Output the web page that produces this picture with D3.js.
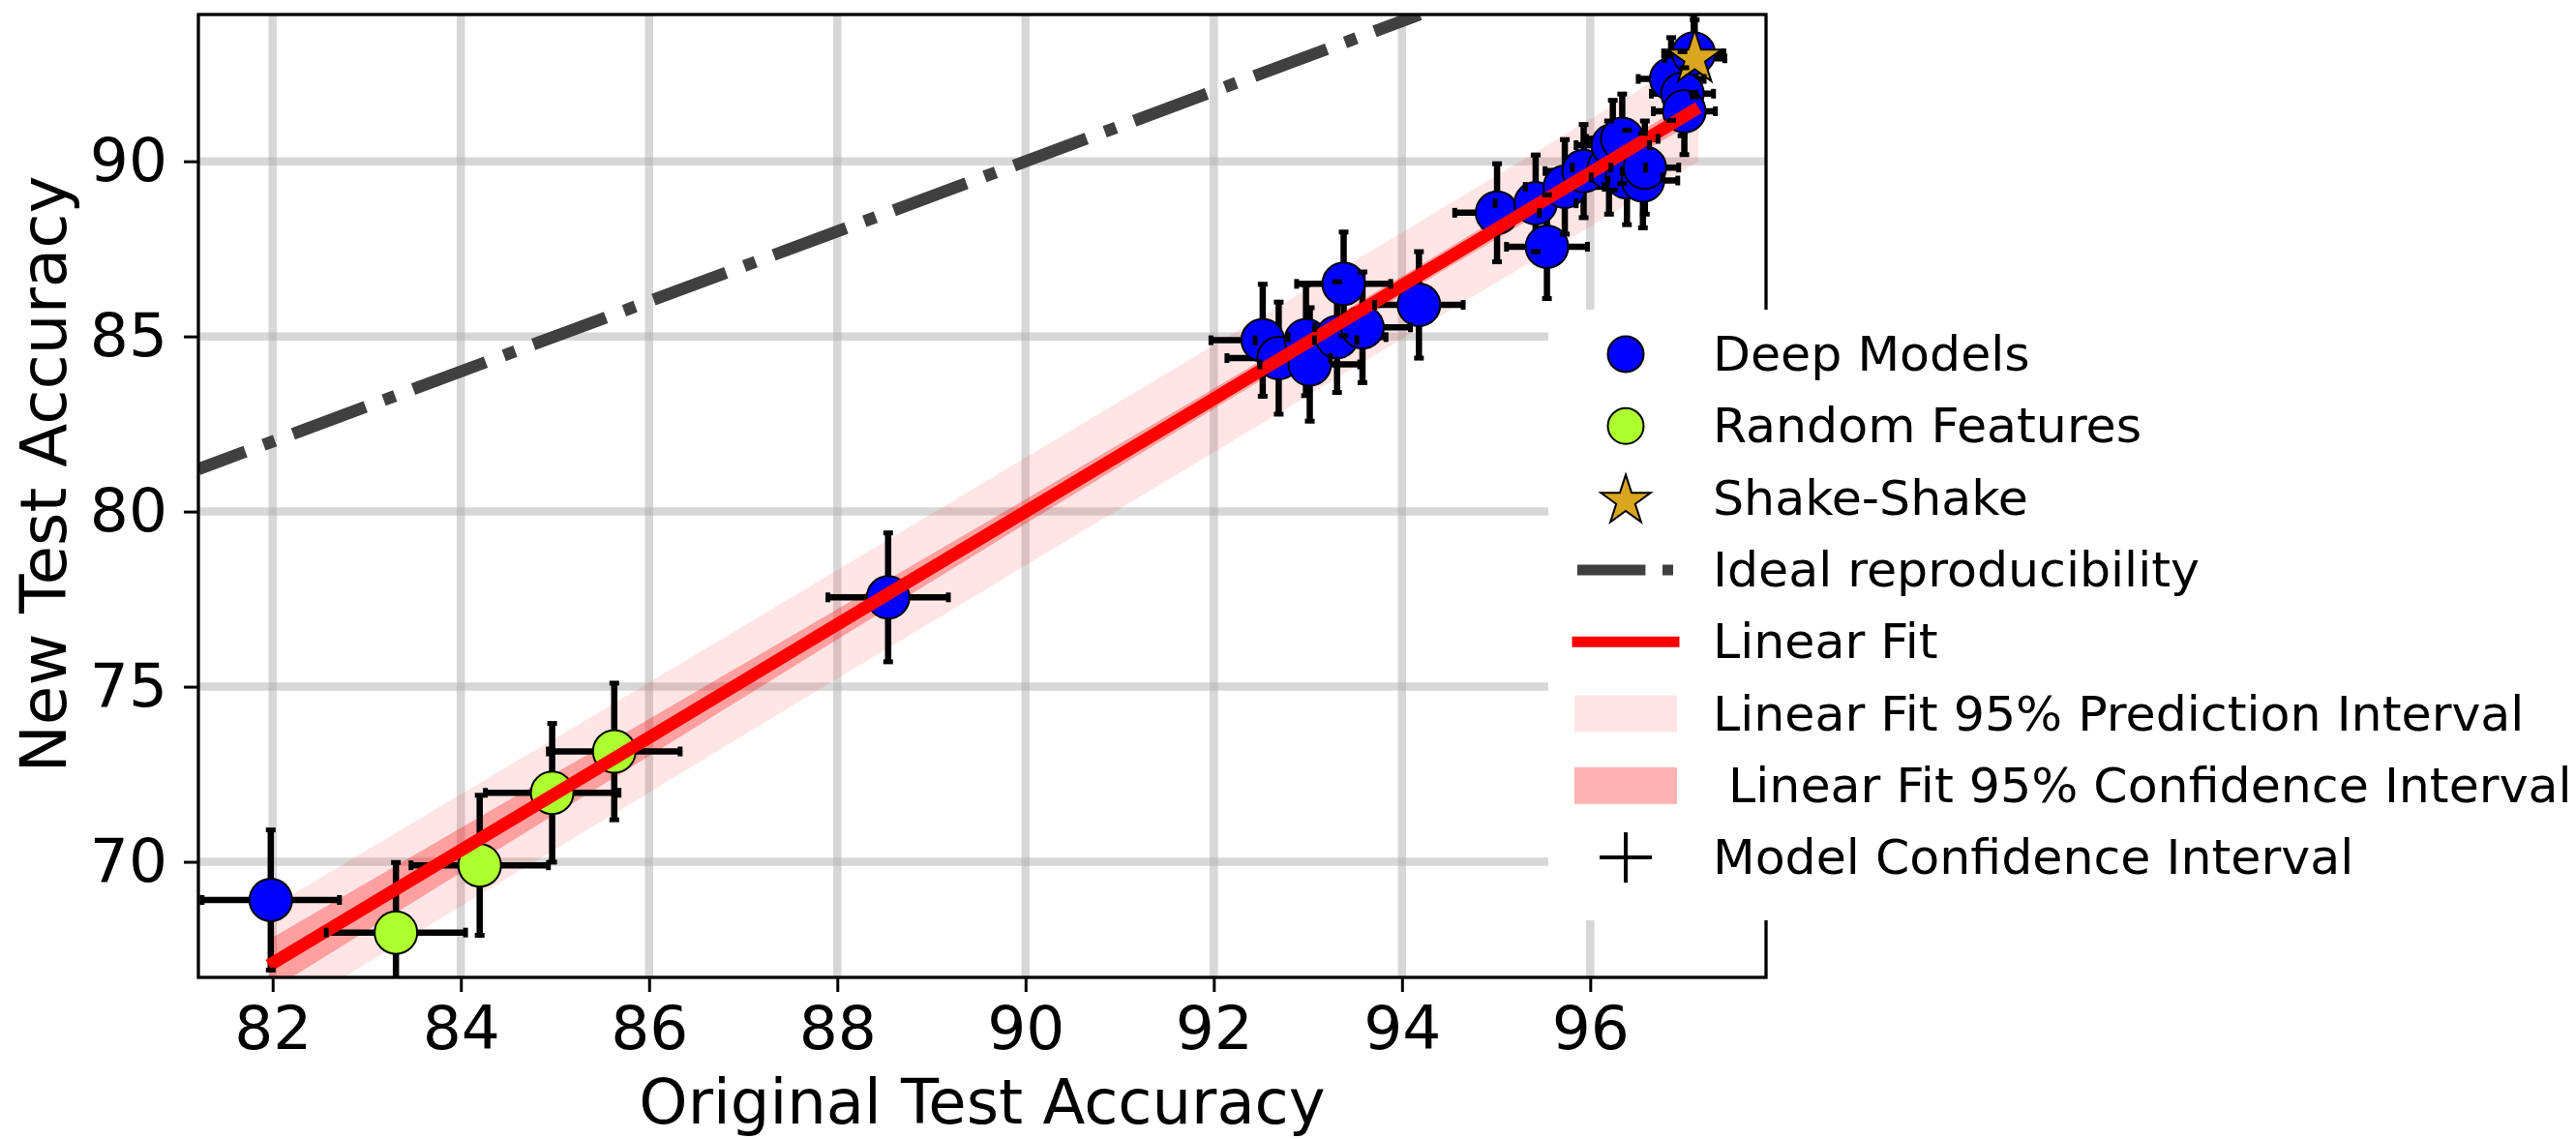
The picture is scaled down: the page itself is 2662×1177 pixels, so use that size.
<!DOCTYPE html>
<html>
<head>
<meta charset="utf-8">
<script src="https://cdn.jsdelivr.net/npm/d3@7"></script>
<style>
  html, body { margin: 0; padding: 0; background: #fff; }
  svg { display: block; font-family: "DejaVu Sans", sans-serif; }
</style>
</head>
<body>
<svg id="chart" width="2662" height="1177"></svg>
<script>
// ---- data ---------------------------------------------------------------
// Deep models: original test accuracy, new test accuracy, 95% interval half-widths
const deepOrig    = [81.98, 88.54, 92.52, 92.69, 92.98, 93.02, 93.31, 93.38, 93.58, 94.18,
                     95.01, 95.42, 95.54, 95.73, 95.93, 96.20, 96.24, 96.34, 96.39, 96.56,
                     96.58, 96.86, 96.98, 97.00, 97.10];
const deepNew     = [68.91, 77.55, 84.89, 84.38, 84.89, 84.20, 84.98, 86.50, 85.26, 85.90,
                     88.53, 88.80, 87.56, 89.27, 89.72, 89.82, 90.46, 90.64, 89.54, 89.45,
                     89.82, 92.35, 91.93, 91.43, 93.08];
const deepOrigErr = [0.73, 0.64, 0.55, 0.55, 0.54, 0.53, 0.52, 0.50, 0.51, 0.47,
                     0.45, 0.43, 0.43, 0.42, 0.41, 0.39, 0.39, 0.38, 0.38, 0.37,
                     0.36, 0.35, 0.33, 0.33, 0.32];
const deepNewErr  = [2.00, 1.84, 1.60, 1.60, 1.58, 1.62, 1.58, 1.48, 1.58, 1.52,
                     1.40, 1.38, 1.48, 1.35, 1.33, 1.33, 1.28, 1.28, 1.35, 1.35,
                     1.33, 1.18, 1.20, 1.24, 1.12];

// Random-features models
const rfOrig    = [83.31, 84.20, 84.97, 85.63];
const rfNew     = [67.98, 69.90, 71.97, 73.15];
const rfOrigErr = [0.74, 0.73, 0.71, 0.70];
const rfNewErr  = [2.00, 2.00, 1.98, 1.95];

// Shake-Shake
const ssOrig    = [97.11];
const ssNew     = [92.94];
const ssOrigErr = [0.32];
const ssNewErr  = [1.10];

// Linear fit with its 95% prediction / confidence half-widths
const fitX      = [81.96, 84, 86, 88, 90, 92, 94, 96, 97.15];
const fitY      = [67.04, 70.33, 73.55, 76.78, 80.00, 83.22, 86.45, 89.67, 91.53];
const predHalf  = [1.63, 1.60, 1.57, 1.55, 1.54, 1.53, 1.52, 1.53, 1.54];
const confHalf  = [0.74, 0.64, 0.53, 0.43, 0.35, 0.29, 0.27, 0.30, 0.33];

const xTicks = [82, 84, 86, 88, 90, 92, 94, 96];
const yTicks = [70, 75, 80, 85, 90];

const legendLabels = ["Deep Models", "Random Features", "Shake-Shake", "Ideal reproducibility",
                      "Linear Fit", "Linear Fit 95% Prediction Interval",
                      " Linear Fit 95% Confidence Interval", "Model Confidence Interval"];

// ---- layout -------------------------------------------------------------
const L = 205, R = 1825, T = 15, B = 1010;
const svg = d3.select("#chart");

const x = d3.scaleLinear().domain([81.211, 97.868]).range([L, R]);
const y = d3.scaleLinear().domain([66.70, 94.19]).range([B, T]);

// y = x reference, drawn from where it leaves the top of the axes down to the left edge
const idealX = [y.domain()[1], x.domain()[0]];

svg.append("defs").append("clipPath").attr("id", "plotclip")
  .append("rect").attr("x", L).attr("y", T).attr("width", R - L).attr("height", B - T);

// grid
const grid = svg.append("g").attr("clip-path", "url(#plotclip)");
grid.selectAll("line.gx").data(xTicks).join("line")
  .attr("x1", d => x(d)).attr("x2", d => x(d)).attr("y1", T).attr("y2", B)
  .attr("stroke", "#b0b0b0").attr("stroke-opacity", 0.5).attr("stroke-width", 8.5);
grid.selectAll("line.gy").data(yTicks).join("line")
  .attr("y1", d => y(d)).attr("y2", d => y(d)).attr("x1", L).attr("x2", R)
  .attr("stroke", "#b0b0b0").attr("stroke-opacity", 0.5).attr("stroke-width", 8.5);

const plot = svg.append("g").attr("clip-path", "url(#plotclip)");

// ideal reproducibility line (dash-dot, dashes scaled by line width)
const lw = 12.5;
plot.append("line")
  .attr("x1", x(idealX[0])).attr("y1", y(idealX[0]))
  .attr("x2", x(idealX[1])).attr("y2", y(idealX[1]))
  .attr("stroke", "#404040").attr("stroke-width", lw)
  .attr("stroke-dasharray", [6.4 * lw, 1.6 * lw, 1 * lw, 1.6 * lw].join(","))
  .attr("stroke-dashoffset", 6.4 * lw - 50);

// bands
const bandIdx = d3.range(fitX.length);
const area = d3.area().x(i => x(fitX[i]));
plot.append("path")
  .attr("d", area.y0(i => y(fitY[i] - predHalf[i])).y1(i => y(fitY[i] + predHalf[i]))(bandIdx))
  .attr("fill", "red").attr("fill-opacity", 0.1);
plot.append("path")
  .attr("d", area.y0(i => y(fitY[i] - confHalf[i])).y1(i => y(fitY[i] + confHalf[i]))(bandIdx))
  .attr("fill", "red").attr("fill-opacity", 0.3);

// points
const groups = [
  { o: deepOrig, n: deepNew, eo: deepOrigErr, en: deepNewErr, kind: "circle", fill: "#0000ff" },
  { o: rfOrig,   n: rfNew,   eo: rfOrigErr,   en: rfNewErr,   kind: "circle", fill: "#adff2f" },
  { o: ssOrig,   n: ssNew,   eo: ssOrigErr,   en: ssNewErr,   kind: "star",   fill: "#daa520" }
];
const pts = [];
groups.forEach(g => g.o.forEach((v, i) =>
  pts.push({ xo: v, yn: g.n[i], ex: g.eo[i], ey: g.en[i], kind: g.kind, fill: g.fill })));

const bars = plot.append("g");
const marks = plot.append("g");
const fitG = plot.append("g");
const caps = plot.append("g");

const starPath = d3.symbol().type(d3.symbolStar).size(960)();
const capLen = 10, capW = 5, barW = 6.5;

pts.forEach(p => {
  const cx = x(p.xo), cy = y(p.yn);
  const x0 = x(p.xo - p.ex), x1 = x(p.xo + p.ex);
  const y0 = y(p.yn - p.ey), y1 = y(p.yn + p.ey);
  bars.append("line").attr("x1", cx).attr("x2", cx).attr("y1", y0).attr("y2", y1)
    .attr("stroke", "#000").attr("stroke-width", barW);
  bars.append("line").attr("x1", x0).attr("x2", x1).attr("y1", cy).attr("y2", cy)
    .attr("stroke", "#000").attr("stroke-width", barW);
  [y0, y1].forEach(yy => caps.append("line")
    .attr("x1", cx - capLen / 2).attr("x2", cx + capLen / 2).attr("y1", yy).attr("y2", yy)
    .attr("stroke", "#000").attr("stroke-width", capW));
  [x0, x1].forEach(xx => caps.append("line")
    .attr("x1", xx).attr("x2", xx).attr("y1", cy - capLen / 2).attr("y2", cy + capLen / 2)
    .attr("stroke", "#000").attr("stroke-width", capW));
  if (p.kind === "circle") {
    marks.append("circle").attr("cx", cx).attr("cy", cy).attr("r", 22)
      .attr("fill", p.fill).attr("stroke", "#000").attr("stroke-width", 2);
  } else {
    marks.append("path").attr("d", starPath).attr("transform", `translate(${cx},${cy})`)
      .attr("fill", p.fill).attr("stroke", "#000").attr("stroke-width", 2);
  }
});

// linear fit
fitG.append("path")
  .attr("d", d3.line().x(i => x(fitX[i])).y(i => y(fitY[i]))(bandIdx))
  .attr("fill", "none").attr("stroke", "red").attr("stroke-width", 13);

// frame
svg.append("rect").attr("x", L).attr("y", T).attr("width", R - L).attr("height", B - T)
  .attr("fill", "none").attr("stroke", "#000").attr("stroke-width", 3.3);

// axes
const xAxis = d3.axisBottom(x).tickValues(xTicks).tickSize(15).tickSizeOuter(0).tickPadding(14);
const yAxis = d3.axisLeft(y).tickValues(yTicks).tickSize(15).tickSizeOuter(0).tickPadding(17);
const gx = svg.append("g").attr("transform", `translate(0,${B})`).call(xAxis);
const gy = svg.append("g").attr("transform", `translate(${L},0)`).call(yAxis);
[gx, gy].forEach(g => {
  g.select(".domain").remove();
  g.selectAll(".tick line").attr("stroke", "#000").attr("stroke-width", 3);
  g.selectAll(".tick text").attr("fill", "#000")
    .style("font-family", "'DejaVu Sans', sans-serif").style("font-size", "63px");
});

svg.append("text").attr("x", (L + R) / 2).attr("y", 1161).attr("text-anchor", "middle")
  .style("font-size", "64px").text("Original Test Accuracy");
svg.append("text").attr("transform", "translate(68,490) rotate(-90)")
  .attr("text-anchor", "middle").style("font-size", "66px").text("New Test Accuracy");

// legend
const lg = svg.append("g");
lg.append("rect").attr("x", 1600).attr("y", 320).attr("width", 1062).attr("height", 631)
  .attr("fill", "#fff");
const rowY0 = 366, rowDy = 74.3, hx = 1680, tx = 1770;
legendLabels.forEach((lab, i) => {
  const cy = rowY0 + i * rowDy;
  lg.append("text").attr("x", tx).attr("y", cy + 17).style("font-size", "50.6px")
    .style("white-space", "pre").attr("xml:space", "preserve").text(lab);
  if (i === 0 || i === 1) {
    lg.append("circle").attr("cx", hx).attr("cy", cy).attr("r", 18.5)
      .attr("fill", i === 0 ? "#0000ff" : "#adff2f").attr("stroke", "#000").attr("stroke-width", 2);
  } else if (i === 2) {
    lg.append("path").attr("d", d3.symbol().type(d3.symbolStar).size(820)())
      .attr("transform", `translate(${hx},${cy + 3})`)
      .attr("fill", "#daa520").attr("stroke", "#000").attr("stroke-width", 2);
  } else if (i === 3) {
    lg.append("line").attr("x1", hx - 50).attr("x2", hx + 50).attr("y1", cy).attr("y2", cy)
      .attr("stroke", "#404040").attr("stroke-width", 11)
      .attr("stroke-dasharray", [6.4 * 11, 1.6 * 11, 11, 1.6 * 11].join(","));
  } else if (i === 4) {
    lg.append("line").attr("x1", hx - 50).attr("x2", hx + 50).attr("y1", cy).attr("y2", cy)
      .attr("stroke", "red").attr("stroke-width", 11).attr("stroke-linecap", "square");
  } else if (i === 5 || i === 6) {
    lg.append("rect").attr("x", hx - 53).attr("y", cy - 19).attr("width", 106).attr("height", 38)
      .attr("fill", "red").attr("fill-opacity", i === 5 ? 0.1 : 0.3);
  } else {
    lg.append("line").attr("x1", hx).attr("x2", hx).attr("y1", cy - 26).attr("y2", cy + 26)
      .attr("stroke", "#000").attr("stroke-width", 4);
    lg.append("line").attr("x1", hx - 27).attr("x2", hx + 27).attr("y1", cy).attr("y2", cy)
      .attr("stroke", "#000").attr("stroke-width", 4);
  }
});
</script>
</body>
</html>
